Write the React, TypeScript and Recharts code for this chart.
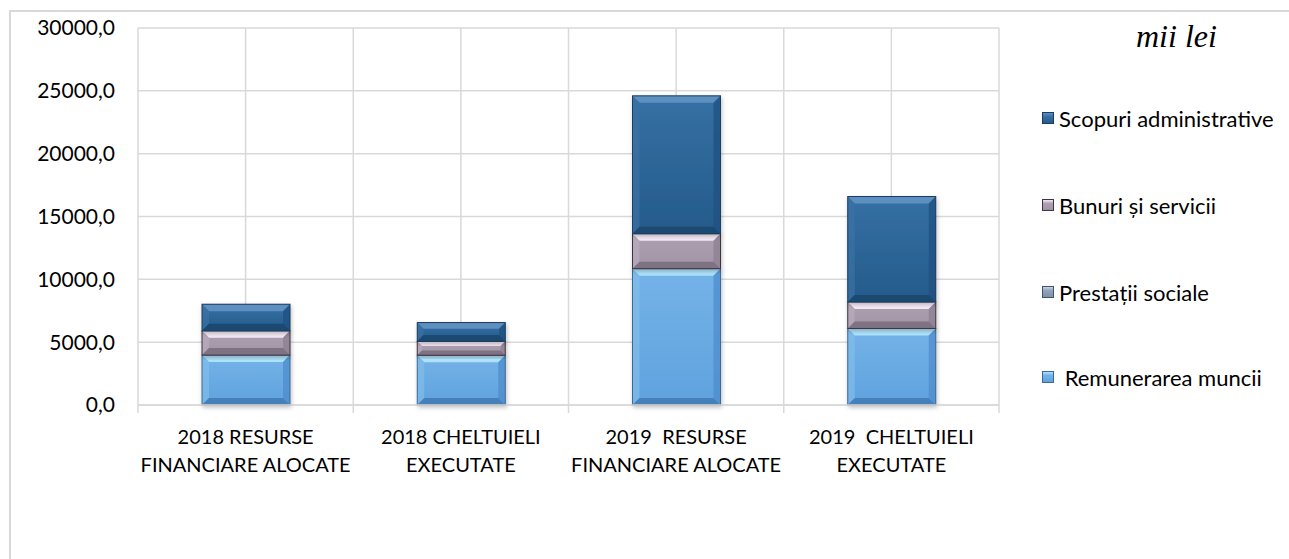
import React from 'react'
import { BarChart, Bar, XAxis, YAxis, CartesianGrid } from 'recharts'

// categories (line breaks as in the original labels)
const categories = [
  '2018 RESURSE\nFINANCIARE ALOCATE',
  '2018 CHELTUIELI\nEXECUTATE',
  '2019  RESURSE\nFINANCIARE ALOCATE',
  '2019  CHELTUIELI\nEXECUTATE',
]

// mii lei
const remunerare = [3970, 3960, 10850, 6090]
const prestatii = [0, 0, 0, 0]
const bunuri = [1930, 1110, 2780, 2110]
const scopuri = [2120, 1490, 10970, 8390]

const yTicks = [0, 5000, 10000, 15000, 20000, 25000, 30000]

const FONT = 'Lato, "Open Sans", sans-serif'
const GRID = '#d9d9d9'

type Palette = { base: string; hi: string; top: string; left: string; right: string; bottom: string; edge: string }

const palettes: Record<string, Palette> = {
  remunerare: { base: '#5fa2de', hi: '#74b3e8', top: '#aee2fa', left: '#80bdea', right: '#4d8acb', bottom: '#4580bb', edge: '#3d6a94' },
  prestatii: { base: '#7e90aa', hi: '#92a3bb', top: '#c9d4e3', left: '#95a6bd', right: '#697b95', bottom: '#627490', edge: '#44536a' },
  bunuri: { base: '#a194a6', hi: '#ada1b1', top: '#f4e9f6', left: '#b9adbd', right: '#8a7d8e', bottom: '#7f7283', edge: '#3e3442' },
  scopuri: { base: '#245b8b', hi: '#3670a4', top: '#5d8fc1', left: '#3b72a6', right: '#1e5080', bottom: '#1b4872', edge: '#1b3c5c' },
}

const series = [
  { key: 'remunerare', name: ' Remunerarea muncii', values: remunerare },
  { key: 'prestatii', name: 'Prestații sociale', values: prestatii },
  { key: 'bunuri', name: 'Bunuri și servicii', values: bunuri },
  { key: 'scopuri', name: 'Scopuri administrative', values: scopuri },
]

const data = categories.map((c, i) => {
  const row: Record<string, string | number> = { name: c }
  series.forEach(s => { row[s.key] = s.values[i] })
  return row
})

const fmt = (v: number) => v.toFixed(1).replace('.', ',')

const BevelBar = (props: any) => {
  const { x, y, width: w, height: h, pal } = props as { x: number; y: number; width: number; height: number; pal: Palette }
  if (!h || h <= 0) return null
  const b = Math.min(7, h / 3, w / 3)
  const id = `g-${pal.base.slice(1)}`
  return (
    <g filter="url(#barShadow)">
      <defs>
        <linearGradient id={id} x1="0" y1="0" x2="0" y2="1">
          <stop offset="0%" stopColor={pal.hi} />
          <stop offset="100%" stopColor={pal.base} />
        </linearGradient>
      </defs>
      <rect x={x} y={y} width={w} height={h} fill={`url(#${id})`} />
      <polygon points={`${x},${y} ${x + w},${y} ${x + w - b},${y + b} ${x + b},${y + b}`} fill={pal.top} />
      <polygon points={`${x},${y} ${x + b},${y + b} ${x + b},${y + h - b} ${x},${y + h}`} fill={pal.left} opacity={0.7} />
      <polygon points={`${x + w},${y} ${x + w - b},${y + b} ${x + w - b},${y + h - b} ${x + w},${y + h}`} fill={pal.right} opacity={0.7} />
      <polygon points={`${x},${y + h} ${x + b},${y + h - b} ${x + w - b},${y + h - b} ${x + w},${y + h}`} fill={pal.bottom} />
      <rect x={x} y={y} width={w} height={h} fill="none" stroke={pal.edge} strokeWidth={1} />
    </g>
  )
}

const CategoryTick = (props: any) => {
  const { x, y, payload, index } = props
  const half = payload?.offset || 107.6
  const lines: string[] = String(payload.value).split('\n')
  return (
    <g>
      <line x1={x - half} y1={y} x2={x - half} y2={y + 8} stroke={GRID} strokeWidth={1.5} />
      {index === categories.length - 1 && (
        <line x1={x + half} y1={y} x2={x + half} y2={y + 8} stroke={GRID} strokeWidth={1.5} />
      )}
      <text x={x} y={y} textAnchor="middle" fontFamily={FONT} fontSize={20} fill="#000" style={{ whiteSpace: 'pre' }}>
        {lines.map((l, i) => (
          <tspan key={i} x={x} dy={i === 0 ? 39 : 28}>{l}</tspan>
        ))}
      </text>
    </g>
  )
}

const LegendMarker = ({ pal }: { pal: Palette }) => (
  <div
    style={{
      width: 12,
      height: 12,
      boxSizing: 'border-box',
      border: `1px solid ${pal.edge}`,
      background: `linear-gradient(${pal.top} 0%, ${pal.hi} 35%, ${pal.base} 100%)`,
      flexShrink: 0,
    }}
  />
)

// vertical centres of the legend rows (top to bottom)
const legendRows = [106, 193, 280, 365]

export default function App() {
  const legendItems = [...series].reverse()
  return (
    <div
      style={{
        position: 'fixed',
        left: 9,
        top: 10,
        width: 1290,
        height: 560,
        borderLeft: `2px solid ${GRID}`,
        borderTop: `2px solid ${GRID}`,
        background: '#fff',
      }}
    >
      <BarChart
        width={1278}
        height={547}
        data={data}
        margin={{ top: 16, right: 290, left: 47, bottom: 94 }}
        barSize={88}
      >
        <defs>
          <filter id="barShadow" x="-10%" y="-10%" width="130%" height="130%">
            <feDropShadow dx="1" dy="2" stdDeviation="2" floodColor="#000" floodOpacity="0.25" />
          </filter>
        </defs>
        <CartesianGrid
          stroke={GRID}
          strokeWidth={1.5}
          verticalCoordinatesGenerator={({ offset }: any) =>
            Array.from({ length: 9 }, (_, i) => offset.left + (offset.width * i) / 8)
          }
        />
        <XAxis
          dataKey="name"
          interval={0}
          height={60}
          axisLine={{ stroke: GRID, strokeWidth: 1.5 }}
          tickLine={false}
          tickSize={0}
          tickMargin={0}
          tick={<CategoryTick />}
        />
        <YAxis
          width={80}
          domain={[0, 30000]}
          ticks={yTicks}
          interval={0}
          axisLine={false}
          tickLine={false}
          tickSize={0}
          tickMargin={23}
          tickFormatter={fmt}
          tick={{ fontFamily: FONT, fontSize: 21, fill: '#000' }}
        />
        {series.map(s => (
          <Bar
            key={s.key}
            dataKey={s.key}
            name={s.name}
            stackId="a"
            fill={palettes[s.key].base}
            isAnimationActive={false}
            shape={(p: any) => <BevelBar {...p} pal={palettes[s.key]} />}
          />
        ))}
      </BarChart>

      <div
        style={{
          position: 'absolute',
          left: 1125,
          top: 8,
          fontFamily: '"Liberation Serif", "Times New Roman", serif',
          fontStyle: 'italic',
          fontSize: 32,
          lineHeight: '32px',
          color: '#000',
        }}
      >
        mii lei
      </div>

      {legendItems.map((s, i) => (
        <div
          key={s.key}
          style={{
            position: 'absolute',
            left: 1031,
            top: legendRows[i] - 13,
            height: 26,
            display: 'flex',
            alignItems: 'center',
            gap: 5,
            fontFamily: FONT,
            fontSize: 22,
            color: '#000',
            whiteSpace: 'pre',
          }}
        >
          <LegendMarker pal={palettes[s.key]} />
          <span>{s.name}</span>
        </div>
      ))}
    </div>
  )
}
